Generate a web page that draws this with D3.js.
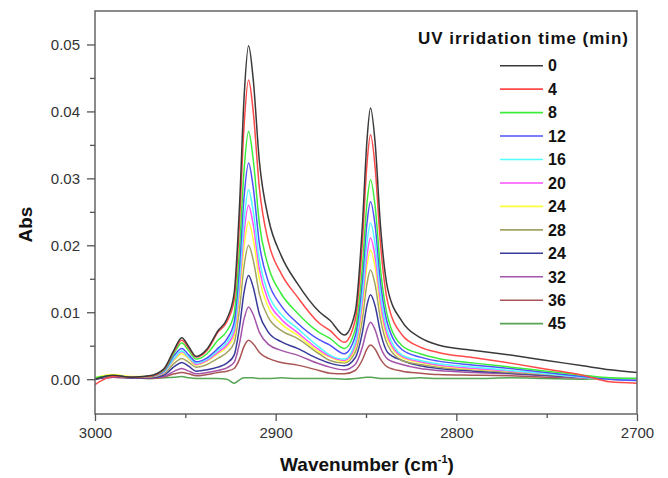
<!DOCTYPE html>
<html>
<head>
<meta charset="utf-8">
<script src="https://cdn.jsdelivr.net/npm/d3@7"></script>
<style>
  body { margin: 0; background: #fff; }
  svg { display: block; font-family: Arial, "Liberation Sans", sans-serif; }
  .tick-label { font-size: 15px; fill: #333; }
  .axis-title { font-size: 19px; font-weight: bold; fill: #111; }
  .legend text { font-size: 16px; font-weight: bold; fill: #111; }
</style>
</head>
<body>
<svg id="chart" width="668" height="478"></svg>
<script>
// wavenumbers (cm-1) the curves were read at
var wavenumber = [3000, 2990, 2980, 2970, 2962, 2956, 2952, 2948, 2944, 2938,
  2932, 2927, 2923, 2920, 2917.5, 2915, 2912.5, 2909, 2904, 2897,
  2888, 2876, 2870, 2862, 2856, 2852, 2849.5, 2847.5, 2845, 2842,
  2838, 2830, 2820, 2810, 2790, 2770, 2750, 2730, 2715, 2700]

var times = ['0', '4', '8', '12', '16', '20', '24', '28', '24', '32', '36', '45']

var abs0 = [0.0000, 0.0006, 0.0003, 0.0005, 0.0015, 0.0045, 0.0062, 0.0048, 0.0034, 0.0045,
  0.0072, 0.0090, 0.0128, 0.0260, 0.0420, 0.0498, 0.0450, 0.0325, 0.0240, 0.0185,
  0.0143, 0.0101, 0.0088, 0.0066, 0.0100, 0.0230, 0.0355, 0.0405, 0.0355, 0.0230,
  0.0135, 0.0086, 0.0062, 0.0051, 0.0043, 0.0036, 0.0028, 0.0020, 0.0014, 0.0010]
var abs4 = [-0.0008, 0.0004, 0.0003, 0.0004, 0.0014, 0.0043, 0.0058, 0.0046, 0.0033, 0.0043,
  0.0070, 0.0086, 0.0118, 0.0235, 0.0378, 0.0447, 0.0402, 0.0285, 0.0205, 0.0158,
  0.0123, 0.0084, 0.0073, 0.0055, 0.0088, 0.0205, 0.0320, 0.0365, 0.0318, 0.0203,
  0.0115, 0.0066, 0.0048, 0.0040, 0.0032, 0.0024, 0.0015, 0.0006, -0.0004, -0.0006]
var abs8 = [0.0002, 0.0005, 0.0003, 0.0004, 0.0013, 0.0040, 0.0054, 0.0042, 0.0030, 0.0038,
  0.0058, 0.0072, 0.0098, 0.0195, 0.0312, 0.0370, 0.0330, 0.0232, 0.0168, 0.0128,
  0.0099, 0.0070, 0.0061, 0.0046, 0.0074, 0.0168, 0.0262, 0.0298, 0.0260, 0.0165,
  0.0093, 0.0050, 0.0038, 0.0031, 0.0024, 0.0018, 0.0012, 0.0006, 0.0002, 0.0001]
var abs12 = [0.0001, 0.0005, 0.0003, 0.0004, 0.0012, 0.0036, 0.0046, 0.0036, 0.0026, 0.0032,
  0.0046, 0.0060, 0.0085, 0.0170, 0.0272, 0.0323, 0.0288, 0.0202, 0.0145, 0.0110,
  0.0084, 0.0059, 0.0051, 0.0038, 0.0064, 0.0148, 0.0232, 0.0265, 0.0231, 0.0146,
  0.0082, 0.0044, 0.0033, 0.0027, 0.0021, 0.0016, 0.0010, 0.0004, 0.0000, -0.0002]
var abs16 = [0.0001, 0.0005, 0.0003, 0.0004, 0.0011, 0.0032, 0.0042, 0.0033, 0.0024, 0.0030,
  0.0043, 0.0055, 0.0076, 0.0150, 0.0238, 0.0283, 0.0252, 0.0178, 0.0127, 0.0097,
  0.0076, 0.0048, 0.0036, 0.0030, 0.0055, 0.0128, 0.0203, 0.0233, 0.0203, 0.0128,
  0.0071, 0.0036, 0.0028, 0.0023, 0.0018, 0.0013, 0.0008, 0.0003, 0.0000, -0.0002]
var abs20 = [0.0001, 0.0005, 0.0003, 0.0004, 0.0010, 0.0031, 0.0041, 0.0032, 0.0022, 0.0028,
  0.0040, 0.0051, 0.0070, 0.0138, 0.0219, 0.0260, 0.0232, 0.0164, 0.0117, 0.0090,
  0.0070, 0.0044, 0.0034, 0.0028, 0.0050, 0.0116, 0.0184, 0.0211, 0.0184, 0.0116,
  0.0064, 0.0034, 0.0026, 0.0021, 0.0016, 0.0012, 0.0008, 0.0003, 0.0000, -0.0001]
var abs24 = [0.0002, 0.0007, 0.0004, 0.0004, 0.0010, 0.0029, 0.0038, 0.0030, 0.0021, 0.0027,
  0.0038, 0.0048, 0.0064, 0.0125, 0.0198, 0.0235, 0.0210, 0.0149, 0.0107, 0.0083,
  0.0066, 0.0041, 0.0033, 0.0026, 0.0046, 0.0106, 0.0168, 0.0193, 0.0168, 0.0106,
  0.0059, 0.0032, 0.0025, 0.0020, 0.0015, 0.0012, 0.0008, 0.0004, 0.0001, 0.0000]
var abs28 = [0.0001, 0.0005, 0.0003, 0.0003, 0.0008, 0.0024, 0.0031, 0.0025, 0.0018, 0.0022,
  0.0031, 0.0040, 0.0054, 0.0106, 0.0169, 0.0200, 0.0179, 0.0127, 0.0092, 0.0073,
  0.0061, 0.0038, 0.0028, 0.0024, 0.0040, 0.0090, 0.0142, 0.0163, 0.0142, 0.0090,
  0.0051, 0.0028, 0.0022, 0.0018, 0.0014, 0.0010, 0.0007, 0.0003, 0.0001, 0.0000]
var abs24b = [0.0000, 0.0004, 0.0002, 0.0002, 0.0006, 0.0019, 0.0025, 0.0019, 0.0012, 0.0014,
  0.0018, 0.0024, 0.0036, 0.0078, 0.0130, 0.0155, 0.0138, 0.0097, 0.0070, 0.0056,
  0.0046, 0.0030, 0.0024, 0.0020, 0.0032, 0.0070, 0.0110, 0.0126, 0.0110, 0.0070,
  0.0040, 0.0028, 0.0020, 0.0016, 0.0012, 0.0009, 0.0006, 0.0003, 0.0001, 0.0000]
var abs32 = [0.0000, 0.0003, 0.0002, 0.0002, 0.0004, 0.0012, 0.0016, 0.0012, 0.0008, 0.0010,
  0.0013, 0.0017, 0.0025, 0.0054, 0.0090, 0.0108, 0.0097, 0.0070, 0.0052, 0.0043,
  0.0036, 0.0023, 0.0018, 0.0014, 0.0022, 0.0048, 0.0074, 0.0085, 0.0074, 0.0048,
  0.0030, 0.0022, 0.0016, 0.0013, 0.0010, 0.0008, 0.0005, 0.0002, 0.0001, 0.0000]
var abs36 = [0.0000, 0.0003, 0.0002, 0.0001, 0.0003, 0.0008, 0.0010, 0.0008, 0.0005, 0.0007,
  0.0010, 0.0012, 0.0016, 0.0030, 0.0049, 0.0058, 0.0053, 0.0040, 0.0031, 0.0025,
  0.0021, 0.0013, 0.0009, 0.0008, 0.0013, 0.0029, 0.0045, 0.0051, 0.0045, 0.0030,
  0.0018, 0.0012, 0.0009, 0.0007, 0.0006, 0.0005, 0.0003, 0.0002, 0.0000, -0.0001]
var abs45 = [0.0001, 0.0003, 0.0002, 0.0001, 0.0002, 0.0003, 0.0004, 0.0002, 0.0001, 0.0001,
  0.0001, 0.0000, -0.0006, -0.0001, 0.0002, 0.0002, 0.0002, 0.0001, 0.0001, 0.0002,
  0.0001, 0.0001, 0.0001, 0.0000, 0.0001, 0.0002, 0.0003, 0.0003, 0.0002, 0.0001,
  0.0001, 0.0001, 0.0002, 0.0001, 0.0001, 0.0002, 0.0001, 0.0000, 0.0001, 0.0001]

var series = [abs0, abs4, abs8, abs12, abs16, abs20, abs24, abs28, abs24b, abs32, abs36, abs45]

var xTicks = [3000, 2900, 2800, 2700]
var xMinor = [2950, 2850, 2750]
var yTicks = [0, 0.01, 0.02, 0.03, 0.04, 0.05]
var yMinor = [0.005, 0.015, 0.025, 0.035, 0.045]

var colors = ['#3a3a3a', '#ff4a4a', '#3cee3c', '#5050ff', '#50ffff', '#ff50ff',
  '#ffff3a', '#a3a363', '#3a3a9a', '#a455aa', '#aa5555', '#55a555']

var svg = d3.select('#chart')
var plotLeft = 95, plotRight = 637, plotTop = 11, plotBottom = 414

var x = d3.scaleLinear().domain([3000, 2700]).range([plotLeft, plotRight])
var y = d3.scaleLinear().domain([-0.0052, 0.055]).range([plotBottom, plotTop])

svg.append('clipPath').attr('id', 'plot')
  .append('rect').attr('x', plotLeft).attr('y', plotTop)
  .attr('width', plotRight - plotLeft).attr('height', plotBottom - plotTop)

var line = d3.line()
  .x((d, i) => x(wavenumber[i]))
  .y((d) => y(d))
  .curve(d3.curveMonotoneX)

var curves = svg.append('g').attr('clip-path', 'url(#plot)')
for (var k = series.length - 1; k >= 0; k--) {
  curves.append('path')
    .attr('d', line(series[k]))
    .attr('fill', 'none')
    .attr('stroke', colors[k])
    .attr('stroke-width', 1.5)
    .attr('stroke-linejoin', 'round')
}

// frame
svg.append('rect')
  .attr('x', plotLeft).attr('y', plotTop)
  .attr('width', plotRight - plotLeft).attr('height', plotBottom - plotTop)
  .attr('fill', 'none').attr('stroke', '#666').attr('stroke-width', 1.5)

// bottom axis
var xAxis = svg.append('g').attr('transform', 'translate(0,' + plotBottom + ')')
xAxis.call(d3.axisBottom(x).tickValues(xTicks).tickSize(7).tickFormat(d3.format('d')))
xAxis.append('g').call(d3.axisBottom(x).tickValues(xMinor).tickSize(4).tickFormat(''))
xAxis.selectAll('.domain').remove()
xAxis.selectAll('line').attr('stroke', '#555').attr('stroke-width', 1.3)
xAxis.selectAll('text').attr('class', 'tick-label').attr('dy', null).attr('y', 24)
  .attr('font-size', null).attr('font-family', null).attr('fill', null)

// left axis
var yAxis = svg.append('g').attr('transform', 'translate(' + plotLeft + ',0)')
yAxis.call(d3.axisLeft(y).tickValues(yTicks).tickSize(8).tickFormat(d3.format('.2f')))
yAxis.append('g').call(d3.axisLeft(y).tickValues(yMinor).tickSize(5).tickFormat(''))
yAxis.selectAll('.domain').remove()
yAxis.selectAll('line').attr('stroke', '#555').attr('stroke-width', 1.3)
yAxis.selectAll('text').attr('class', 'tick-label').attr('x', -15)
  .attr('font-size', null).attr('font-family', null).attr('fill', null)

// axis titles
svg.append('text').attr('class', 'axis-title')
  .attr('transform', 'translate(32,' + ((plotTop + plotBottom) / 2 + 12) + ') rotate(-90)')
  .attr('text-anchor', 'middle')
  .text('Abs')

var xt = svg.append('text').attr('class', 'axis-title')
  .attr('x', 367).attr('y', 471)
  .attr('text-anchor', 'middle')
xt.append('tspan').text('Wavenumber (cm')
xt.append('tspan').attr('font-size', '11px').attr('dy', -8).text('-1')
xt.append('tspan').attr('dy', 8).text(')')

// legend
var legend = svg.append('g').attr('class', 'legend')
legend.append('text')
  .attr('x', 418).attr('y', 44)
  .attr('textLength', 210).attr('lengthAdjust', 'spacing')
  .style('font-size', '17px')
  .text('UV irridation time (min)')

var rows = legend.selectAll('.row').data(times).enter().append('g')
  .attr('transform', (d, i) => 'translate(0,' + (65.7 + i * 23.45) + ')')
rows.append('line')
  .attr('x1', 500).attr('x2', 543)
  .attr('stroke', (d, i) => colors[i]).attr('stroke-width', 1.6)
rows.append('text')
  .attr('x', 548).attr('dy', '0.36em')
  .text((d) => d)
</script>
</body>
</html>
